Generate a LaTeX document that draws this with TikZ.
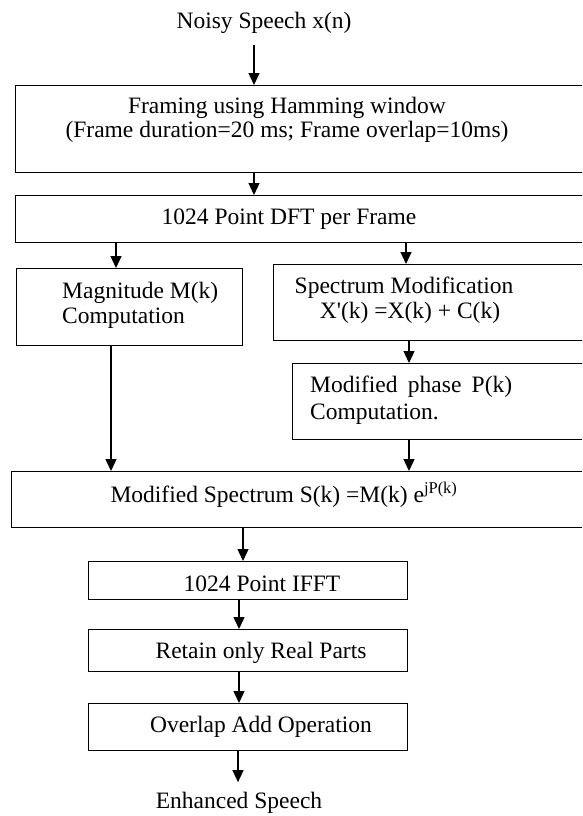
\documentclass[tikz,border=0pt]{standalone}
\usepackage{fontspec}
\setmainfont{Liberation Serif}
\usetikzlibrary{arrows.meta}
\begin{document}
\begin{tikzpicture}[x=1pt,y=-1pt,
  box/.style={draw, line width=1.3pt, inner sep=0pt, anchor=north west},
  txt/.style={inner sep=0pt, font=\fontsize{23.5}{25}\selectfont},
  arr/.style={line width=1.4pt, -{Triangle[length=12pt,width=11pt]}}]
\useasboundingbox (0,0) rectangle (582,816);
\clip (0,0) rectangle (582,816);
\fill[white] (0,0) rectangle (582,816);
% boxes
\node[box, minimum width=575pt, minimum height=87pt] (fr) at (15,85) {};
\node[box, minimum width=575pt, minimum height=47pt] (dft) at (15,195) {};
\node[box, minimum width=226pt, minimum height=77pt] (mag) at (16,268) {};
\node[box, minimum width=317pt, minimum height=76pt] (smod) at (273,264) {};
\node[box, minimum width=298pt, minimum height=76pt] (mph) at (292,363) {};
\node[box, minimum width=579pt, minimum height=56pt] (ms) at (11,471) {};
\node[box, minimum width=319pt, minimum height=38pt] (ifft) at (88,561) {};
\node[box, minimum width=319pt, minimum height=42pt] (ret) at (88,629) {};
\node[box, minimum width=319pt, minimum height=47pt] (ola) at (88,703) {};
% texts
\node[txt, inner ysep=11pt] (noisy) at (264,23) {Noisy Speech x(n)};
\node[txt, align=center, font=\fontsize{23.5}{24}\selectfont] (frt) at (287,120) {Framing using Hamming window\\(Frame duration=20 ms; Frame overlap=10ms)};
\node[txt] (dftt) at (289,219) {1024 Point DFT per Frame};
\node[txt, align=left, anchor=west] (magt) at (62,305) {Magnitude M(k)\\Computation};
\node[txt, align=center] (smodt) at (404,300) {Spectrum Modification\\\hspace{12pt}X\textquotesingle(k) =X(k) + C(k)};
\node[txt, align=left, anchor=west, font=\fontsize{23.5}{27}\selectfont] (mpht) at (310,400) {\makebox[202pt][s]{Modified phase P(k)}\\Computation.};
\node[txt] (mst) at (284,495) {Modified Spectrum S(k) =M(k) e\textsuperscript{jP(k)}};
\node[txt] (iffft) at (262,584) {1024 Point IFFT};
\node[txt] (rett) at (261,653) {Retain only Real Parts};
\node[txt] (olat) at (261,727) {Overlap Add Operation};
\node[txt, inner ysep=10pt] (enh) at (239,803) {Enhanced Speech};
% columns
\coordinate (xa) at (254,0);
\coordinate (xb) at (116,0);
\coordinate (xc) at (406,0);
\coordinate (xd) at (409,0);
\coordinate (xe) at (111,0);
\coordinate (xf) at (243,0);
\coordinate (xg) at (239,0);
\coordinate (xh) at (238,0);
% arrows
\draw[arr] (noisy.south -| xa) -- (fr.north -| xa);
\draw[arr] (fr.south -| xa) -- (dft.north -| xa);
\draw[arr] (dft.south -| xb) -- (mag.north -| xb);
\draw[arr] (dft.south -| xc) -- (smod.north -| xc);
\draw[arr] (smod.south -| xd) -- (mph.north -| xd);
\draw[arr] (mag.south -| xe) -- (ms.north -| xe);
\draw[arr] (mph.south -| xd) -- (ms.north -| xd);
\draw[arr] (ms.south -| xf) -- (ifft.north -| xf);
\draw[arr] (ifft.south -| xg) -- (ret.north -| xg);
\draw[arr] (ret.south -| xg) -- (ola.north -| xg);
\draw[arr] (ola.south -| xh) -- (enh.north -| xh);
\end{tikzpicture}
\end{document}
